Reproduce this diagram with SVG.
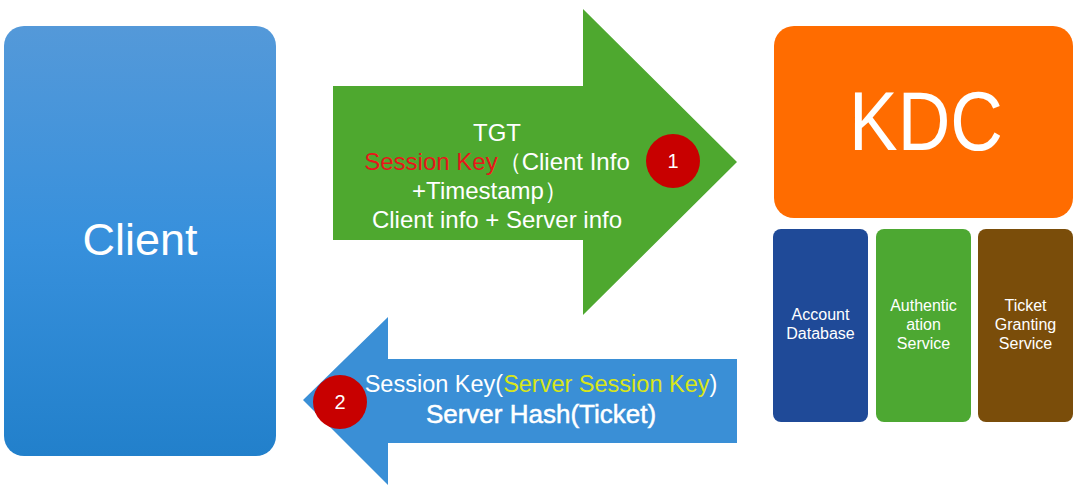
<svg xmlns="http://www.w3.org/2000/svg" width="1080" height="490" viewBox="0 0 1080 490">
<defs>
<linearGradient id="clientGrad" x1="0" y1="0" x2="0" y2="1">
<stop offset="0" stop-color="#5499d9"/>
<stop offset="0.5" stop-color="#3790dc"/>
<stop offset="1" stop-color="#2280cb"/>
</linearGradient>
<style>
text{font-family:"Liberation Sans",Arial,sans-serif;fill:#ffffff;text-anchor:middle}
.lbl{font-size:24px}
.sub{font-size:16px}
.badge{fill:#c80000}
.num{font-size:20px}
</style>
</defs>
<rect width="1080" height="490" fill="#ffffff"/>
<g id="client">
<rect x="4" y="26" width="272" height="430" rx="20" fill="url(#clientGrad)"/>
<text x="140" y="255" style="font-size:45px">Client</text>
</g>
<g id="kdc">
<rect x="774" y="26" width="299" height="192" rx="20" fill="#ff6c00"/>
<text x="926" y="150" style="font-size:84px" textLength="154" lengthAdjust="spacingAndGlyphs">KDC</text>
</g>
<g id="account-db">
<rect x="773" y="229" width="95" height="193" rx="8" fill="#1f4a98"/>
<text class="sub" x="820.500" y="320">Account</text>
<text class="sub" x="820.500" y="339">Database</text>
</g>
<g id="auth-service">
<rect x="876" y="229" width="95" height="193" rx="8" fill="#4da832"/>
<text class="sub" x="923.500" y="311">Authentic</text>
<text class="sub" x="923.500" y="330">ation</text>
<text class="sub" x="923.500" y="349">Service</text>
</g>
<g id="tgs">
<rect x="978" y="229" width="95" height="193" rx="8" fill="#7a4d0a"/>
<text class="sub" x="1025.500" y="311">Ticket</text>
<text class="sub" x="1025.500" y="330">Granting</text>
<text class="sub" x="1025.500" y="349">Service</text>
</g>
<g id="connectors">
<g id="arrow-1">
<polygon points="333,86 583,86 583,9 737,162 583,315 583,240 333,240" fill="#4ea82f"/>
<text class="lbl" x="497" y="141">TGT</text>
<text class="lbl" x="497" y="170"><tspan style="fill:#e8161a">Session Key</tspan>（Client Info</text>
<text class="lbl" x="490" y="199">+Timestamp）</text>
<text class="lbl" x="497" y="228">Client info + Server info</text>
<circle class="badge" cx="673" cy="161" r="27"/>
<text class="num" x="673" y="168">1</text>
</g>
<g id="arrow-2">
<polygon points="737,359 388,359 388,317 303,400 388,485 388,443 737,443" fill="#3a8fd6"/>
<circle class="badge" cx="340" cy="402" r="27"/>
<text class="num" x="340" y="409">2</text>
<text x="541" y="392" style="font-size:23.5px">Session Key(<tspan style="fill:#d8e619">Server Session Key</tspan>)</text>
<text x="541" y="423" style="font-size:26px;stroke:#ffffff;stroke-width:0.5">Server Hash(Ticket)</text>
</g>
</g>
</svg>
